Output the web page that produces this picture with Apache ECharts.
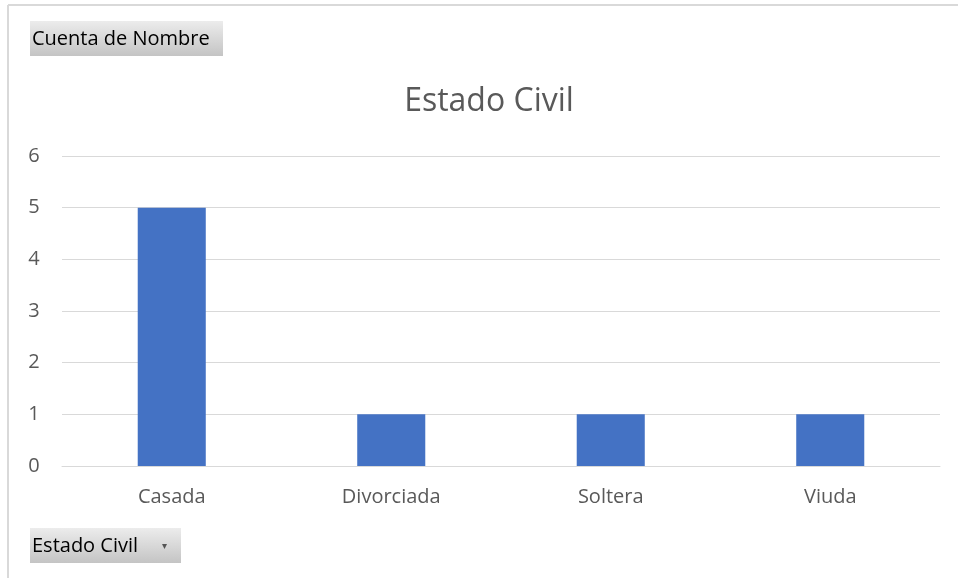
<!DOCTYPE html>
<html><head><meta charset="utf-8">
<script src="https://cdn.jsdelivr.net/npm/echarts@6/dist/echarts.min.js"></script>
<style>html,body{margin:0;padding:0;background:#fff}#c{width:958px;height:578px}</style>
</head><body><div id="c"></div>
<script>
const categories = ['Casada', 'Divorciada', 'Soltera', 'Viuda'];
const counts = [5, 1, 1, 1];
const yTicks = [0, 1, 2, 3, 4, 5, 6];
const titleText = 'Estado Civil';
const valueButton = 'Cuenta de Nombre';
const axisButton = 'Estado Civil';

const FONT = '"Open Sans", "Noto Sans", sans-serif';
const chart = echarts.init(document.getElementById('c'), null, {renderer: 'canvas'});
const btnGrad = new echarts.graphic.LinearGradient(0, 0, 0, 1, [
  {offset: 0, color: '#ececec'}, {offset: 1, color: '#c4c4c4'}
]);
chart.setOption({
  animation: false,
  backgroundColor: '#fff',
  grid: {left: 62, right: 18, top: 156, bottom: 112, containLabel: false},
  xAxis: {
    type: 'category', data: categories,
    axisLine: {lineStyle: {color: '#d9d9d9', width: 1}},
    axisTick: {show: false},
    axisLabel: {fontFamily: FONT, fontSize: 20, color: '#595959', margin: 21}
  },
  yAxis: {
    type: 'value', min: yTicks[0], max: yTicks[yTicks.length - 1], interval: 1,
    axisLine: {show: false}, axisTick: {show: false},
    axisLabel: {fontFamily: FONT, fontSize: 20, color: '#595959', margin: 28, align: 'center'},
    splitLine: {lineStyle: {color: '#d9d9d9', width: 1}}
  },
  series: [{
    type: 'bar', data: counts, barWidth: '31%',
    itemStyle: {color: '#4472c4'}
  }],
  graphic: [
    {type: 'line', shape: {x1: 8, y1: 5, x2: 958, y2: 5}, style: {stroke: '#d9d9d9', lineWidth: 2}, silent: true},
    {type: 'line', shape: {x1: 8, y1: 5, x2: 8, y2: 578}, style: {stroke: '#d9d9d9', lineWidth: 2}, silent: true},
    {type: 'text', x: 489, y: 102, style: {text: titleText, font: '32px ' + FONT, fill: '#595959', align: 'center', verticalAlign: 'middle'}},
    {type: 'rect', shape: {x: 30, y: 21, width: 193, height: 35}, style: {fill: btnGrad}},
    {type: 'text', x: 32, y: 39, style: {text: valueButton, font: '20px ' + FONT, fill: '#000', verticalAlign: 'middle'}},
    {type: 'rect', shape: {x: 30, y: 528, width: 151, height: 35}, style: {fill: btnGrad}},
    {type: 'text', x: 32, y: 546, style: {text: axisButton, font: '20px ' + FONT, fill: '#000', verticalAlign: 'middle'}},
    {type: 'text', x: 164, y: 546, style: {text: '▾', font: '10px ' + FONT, fill: '#555', align: 'center', verticalAlign: 'middle'}}
  ]
});
</script></body></html>
